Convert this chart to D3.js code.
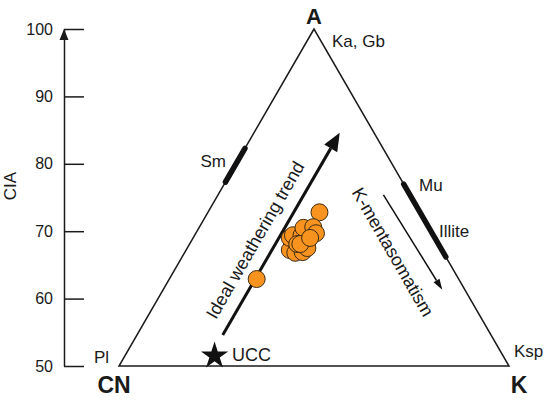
<!DOCTYPE html>
<html>
<head>
<meta charset="utf-8">
<script src="https://cdn.jsdelivr.net/npm/d3@7"></script>
<style>
  html, body { margin: 0; padding: 0; background: #fff; }
  svg { display: block; }
  text { font-family: "Liberation Sans", Arial, sans-serif; fill: #1a1a1a; }
</style>
</head>
<body>
<svg id="chart" width="550" height="400"></svg>
<script>
// ---- data (ternary A-CN-K, molar %) ----
const ciaTicks = [50, 60, 70, 80, 90, 100];
// samples: A and K (CN = 100 - A - K)
const sampleA = [62.9, 72.8, 67.2, 66.8, 66.9, 69.0, 69.4, 69.4, 70.5, 70.6, 69.7, 67.5, 68.1, 68.1, 69.0];
const sampleK = [11.2, 14.3, 13.3, 14.2, 15.1, 12.4, 12.6, 13.7, 13.4, 14.6, 15.4, 15.4, 13.8, 14.2, 15.0];
// upper continental crust
const uccA = [51.5];
const uccK = [11.5];
// triangle vertices (A, K): A apex, Pl, Ksp
const vertexA = [100, 50, 50];
const vertexK = [0, 0, 50];
// mineral segments (A, K) start/end
const smA = [82.3, 77.3], smK = [0, 0];
const muA = [77.0, 66.2], muK = [23.0, 33.8];
// trend arrows
const weatherA = [54.6, 84.6], weatherK = [11.0, 11.0];
const kmetaA = [75.4, 61.3], kmetaK = [21.2, 35.8];

const svg = d3.select("#chart");
const y = d3.scaleLinear().domain([50, 100]).range([366, 29]);
const xT = d3.scaleLinear().domain([0, 1]).range([-76, 704]);
const px = (a, k) => xT(k / 100 + a / 200);
const py = a => y(a);

// ---- CIA axis ----
const axis = d3.axisLeft(y).tickValues(ciaTicks).tickSizeInner(-20).tickSizeOuter(0).tickPadding(11);
const gAx = svg.append("g").attr("transform", "translate(64,0)").call(axis);
gAx.select(".domain").attr("stroke", "#1a1a1a").attr("stroke-width", 1.5);
gAx.selectAll(".tick line").attr("stroke", "#1a1a1a").attr("stroke-width", 1.5);
gAx.selectAll(".tick text").attr("font-size", 16).attr("font-family", "Liberation Sans, Arial, sans-serif").attr("fill", "#1a1a1a");
svg.append("path")
  .attr("d", `M64,${y(100)} L59.5,${y(100) + 11} L68.5,${y(100) + 11} Z`)
  .attr("fill", "#1a1a1a");
svg.append("text").attr("transform", "translate(16,186) rotate(-90)")
  .attr("text-anchor", "middle").attr("font-size", 17).text("CIA");

// ---- triangle ----
const tri = vertexA.map((a, i) => [px(a, vertexK[i]), py(a)]);
svg.append("path").attr("d", d3.line()(tri) + "Z")
  .attr("fill", "none").attr("stroke", "#1a1a1a").attr("stroke-width", 1.5);

// mineral bars
[[smA, smK], [muA, muK]].forEach(([aa, kk]) => {
  svg.append("line")
    .attr("x1", px(aa[0], kk[0])).attr("y1", py(aa[0]))
    .attr("x2", px(aa[1], kk[1])).attr("y2", py(aa[1]))
    .attr("stroke", "#111").attr("stroke-width", 5.5).attr("stroke-linecap", "round");
});

// arrows
function arrow(aa, kk, width, headLen, headW) {
  const x1 = px(aa[0], kk[0]), y1 = py(aa[0]);
  const x2 = px(aa[1], kk[1]), y2 = py(aa[1]);
  const ang = Math.atan2(y2 - y1, x2 - x1);
  const bx = x2 - headLen * Math.cos(ang), by = y2 - headLen * Math.sin(ang);
  svg.append("line").attr("x1", x1).attr("y1", y1).attr("x2", bx).attr("y2", by)
    .attr("stroke", "#111").attr("stroke-width", width);
  const nx = -Math.sin(ang) * headW / 2, ny = Math.cos(ang) * headW / 2;
  svg.append("path")
    .attr("d", `M${x2},${y2} L${bx + nx},${by + ny} L${bx - nx},${by - ny} Z`)
    .attr("fill", "#111");
}
arrow(weatherA, weatherK, 3, 18, 15);
arrow(kmetaA, kmetaK, 1.5, 11, 7);

// ---- labels ----
svg.append("text").attr("x", 314).attr("y", 24).attr("text-anchor", "middle")
  .attr("font-size", 22).attr("font-weight", "bold").text("A");
svg.append("text").attr("x", 114).attr("y", 393).attr("text-anchor", "middle")
  .attr("font-size", 23).attr("font-weight", "bold").text("CN");
svg.append("text").attr("x", 519).attr("y", 393).attr("text-anchor", "middle")
  .attr("font-size", 23).attr("font-weight", "bold").text("K");
svg.append("text").attr("x", 332).attr("y", 47).attr("font-size", 17).text("Ka, Gb");
svg.append("text").attr("x", 94).attr("y", 363).attr("font-size", 17).text("Pl");
svg.append("text").attr("x", 514).attr("y", 357).attr("font-size", 17).text("Ksp");
svg.append("text").attr("x", 226).attr("y", 167).attr("text-anchor", "end").attr("font-size", 17).text("Sm");
svg.append("text").attr("x", 419).attr("y", 191).attr("font-size", 17).text("Mu");
svg.append("text").attr("x", 439).attr("y", 237).attr("font-size", 17).text("Illite");

svg.append("text").attr("transform", "translate(255,240) rotate(-60)")
  .attr("text-anchor", "middle").attr("dy", "0.35em").attr("font-size", 18).text("Ideal weathering trend");
svg.append("text").attr("transform", "translate(393,252) rotate(60)")
  .attr("text-anchor", "middle").attr("dy", "0.35em").attr("font-size", 18).text("K-mentasomatism");

// ---- UCC star ----
svg.append("path")
  .attr("d", d3.symbol().type(d3.symbolStar).size(230)())
  .attr("transform", `translate(${px(uccA[0], uccK[0])},${py(uccA[0])})`)
  .attr("fill", "#111");
svg.append("text").attr("x", 232).attr("y", 361).attr("font-size", 18).text("UCC");

// ---- samples ----
svg.append("g").selectAll("circle")
  .data(sampleA.map((a, i) => ({ a, k: sampleK[i] })))
  .join("circle")
  .attr("cx", d => px(d.a, d.k)).attr("cy", d => py(d.a))
  .attr("r", 8.5)
  .attr("fill", "#F7931E").attr("stroke", "#3d2b12").attr("stroke-width", 1);
</script>
</body>
</html>
